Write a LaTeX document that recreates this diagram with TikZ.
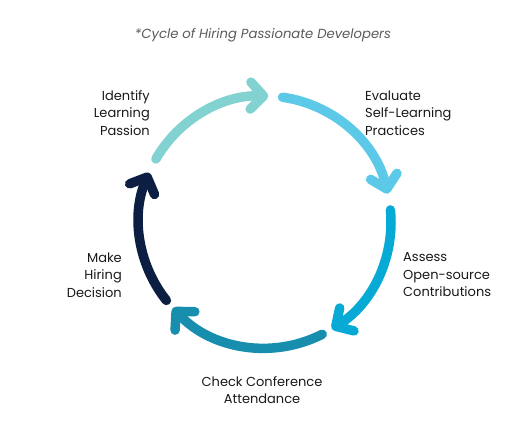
\documentclass[tikz,border=0pt]{standalone}
\usepackage{fontspec}
\setmainfont{Poppins}
\usepackage{xcolor}
\usetikzlibrary{arrows, arrows.meta}
\usetikzlibrary{calc}

\definecolor{stepA}{HTML}{82D2D2}
\definecolor{stepB}{HTML}{5DC9E8}
\definecolor{stepC}{HTML}{07A9D5}
\definecolor{stepD}{HTML}{178EAE}
\definecolor{stepE}{HTML}{0C1E42}
\definecolor{titlegray}{HTML}{5A5A5A}

\tikzset{
  cyclearc/.style={line width=9.5pt, line cap=round, -{Straight Barb[length=13pt, width=27pt, round]}},
  steplabel/.style={inner sep=0pt, font=\fontsize{13}{17.5}\selectfont, text=black!90},
}

\begin{document}
\begin{tikzpicture}[x=1pt, y=1pt]
      \useasboundingbox (0,0) rectangle (525,426);
      \coordinate (c) at (265,204);

      \node[inner sep=0pt, font=\fontsize{13.2}{15}\selectfont\itshape, text=titlegray] (title) at (263,391) {*Cycle of Hiring Passionate Developers};

      \draw[cyclearc, stepA] ($(c)+(150:126)$) arc[start angle=150, end angle=88.5, radius=126];
      \draw[cyclearc, stepB] ($(c)+(82:126)$) arc[start angle=82, end angle=13, radius=126];
      \draw[cyclearc, stepC] ($(c)+(5.5:126)$) arc[start angle=5.5, end angle=-58, radius=126];
      \draw[cyclearc, stepD] ($(c)+(-63:126)$) arc[start angle=-63, end angle=-137, radius=126];
      \draw[cyclearc, stepE] ($(c)+(-141.5:126)$) arc[start angle=-141.5, end angle=-203, radius=126];

      \node[steplabel, anchor=east, align=right] (identify) at (150,313) {Identify\\Learning\\Passion};
      \node[steplabel, anchor=west, align=left] (evaluate) at (365,313) {Evaluate\\Self-Learning\\Practices};
      \node[steplabel, anchor=west, align=left] (assess) at (403,151) {Assess\\Open-source\\Contributions};
      \node[steplabel, align=center] (check) at (262,36) {Check Conference\\Attendance};
      \node[steplabel, anchor=east, align=right] (decide) at (122,151) {Make\\Hiring\\Decision};
    \end{tikzpicture}
\end{document}
